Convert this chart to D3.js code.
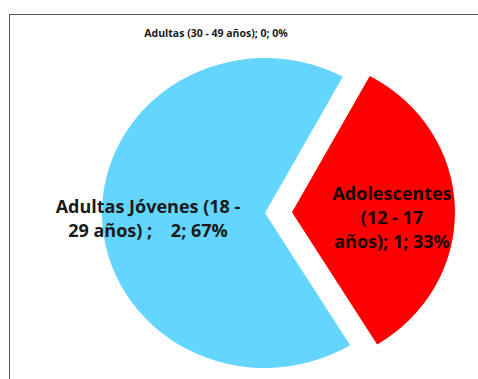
<!DOCTYPE html>
<html>
<head>
<meta charset="utf-8">
<script src="https://cdn.jsdelivr.net/npm/d3@7"></script>
<style>
  html, body { margin: 0; padding: 0; background: #fff; }
  svg { display: block; }
</style>
</head>
<body>
<svg id="chart" width="478" height="379"></svg>
<script>
// Distribución por grupo de edad
const categories = ["Adolescentes (12 - 17 años)", "Adultas Jóvenes (18 - 29 años)", "Adultas (30 - 49 años)"];
const values = [1, 2, 0];
const percents = ["33%", "67%", "0%"];
const colors = ["#ff0000", "#63d5fe", "#9bbb59"];
// label lines as shown on the chart
const labelLines = [
  ["Adolescentes", "(12 - 17", "años); 1; 33%"],
  ["Adultas Jóvenes (18 -", "29 años) ;    2; 67%"],
  ["Adultas (30 - 49 años); 0; 0%"]
];

const svg = d3.select("#chart");
const W = 478, H = 379;

// chart area frame
svg.append("rect")
  .attr("x", 9.5).attr("y", 14.5)
  .attr("width", W + 10).attr("height", H + 10)
  .attr("fill", "#fff")
  .attr("stroke", "#595959")
  .attr("stroke-width", 1);

const cx = 265, cy = 213;
const ry = 155, rx = 163;
const deg = Math.PI / 180;
const start = 28.5 * deg;

const pie = d3.pie().sort(null).value(d => d)
  .startAngle(start).endAngle(start + 2 * Math.PI);
const arcs = pie(values);
const arc = d3.arc().innerRadius(0).outerRadius(ry);
const explode = [27, 0, 0];

const g = svg.append("g")
  .attr("transform", `translate(${cx},${cy}) scale(${rx / ry},1)`);

g.selectAll("path.slice")
  .data(arcs.filter(a => a.value > 0))
  .join("path")
  .attr("class", "slice")
  .attr("fill", d => colors[d.index])
  .attr("transform", d => {
    const m = (d.startAngle + d.endAngle) / 2;
    const e = explode[d.index];
    return `translate(${e * Math.sin(m) / (rx / ry)},${-e * Math.cos(m)})`;
  })
  .attr("d", arc);

// data labels
const font = "'Open Sans', sans-serif";
const labelPos = [
  { x: 392, y: 200, size: 18, lh: 24 },
  { x: 148, y: 213, size: 18, lh: 24 },
  { x: 216, y: 37, size: 10.5, lh: 12 }
];

labelPos.forEach((p, i) => {
  const t = svg.append("text")
    .attr("text-anchor", "middle")
    .attr("font-family", font)
    .attr("font-weight", "bold")
    .attr("font-size", p.size)
    .attr("fill", i === 0 ? "#1a0000" : "#1a1a1a");
  labelLines[i].forEach((line, j) => {
    t.append("tspan")
      .attr("x", p.x)
      .attr("y", p.y + j * p.lh)
      .attr("xml:space", "preserve")
      .style("white-space", "pre")
      .text(line);
  });
});
</script>
</body>
</html>
